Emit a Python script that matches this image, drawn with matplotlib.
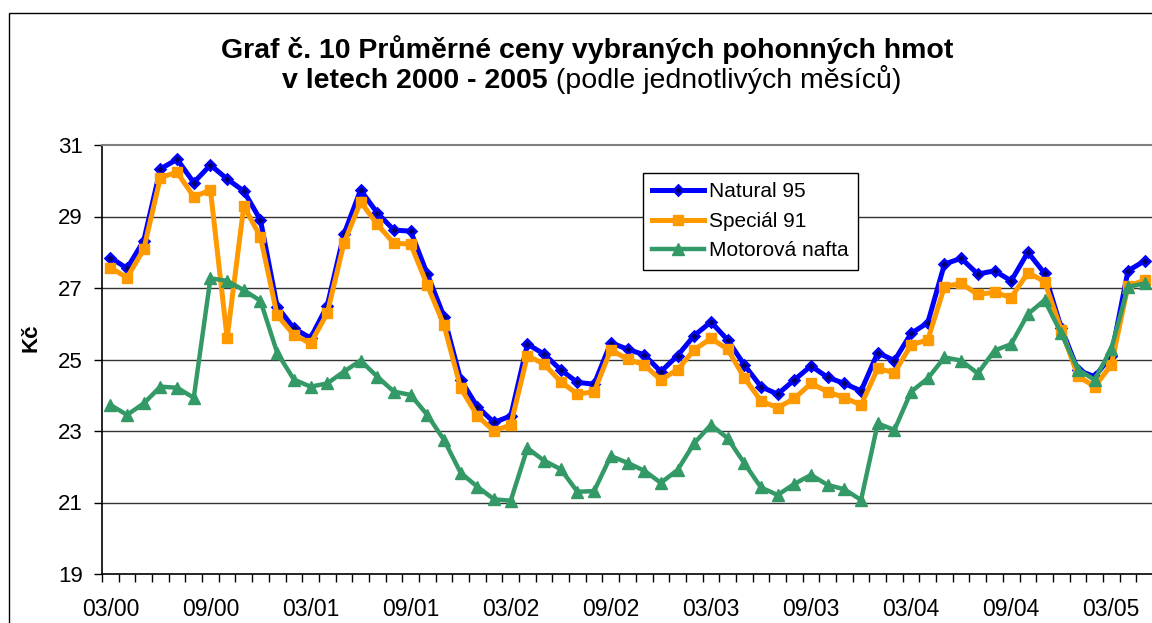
import numpy as np
import matplotlib
matplotlib.use("Agg")
import matplotlib.pyplot as plt
from matplotlib.patches import Rectangle

plt.rcParams['font.family'] = ['Liberation Sans', 'DejaVu Sans']

# monthly prices, 03/2000 - 05/2005 (Kč)
natural95 = [27.85, 27.55, 28.32, 30.33, 30.6, 29.95, 30.44, 30.05, 29.71, 28.9,
             26.48, 25.87, 25.6, 26.5, 28.5, 29.74, 29.1, 28.62, 28.59, 27.39,
             26.2, 24.43, 23.68, 23.24, 23.42, 25.43, 25.15, 24.71, 24.36, 24.31,
             25.47, 25.29, 25.13, 24.66, 25.11, 25.67, 26.05, 25.55, 24.85, 24.24,
             24.03, 24.43, 24.82, 24.5, 24.33, 24.12, 25.19, 24.97, 25.73, 26.03,
             27.67, 27.83, 27.39, 27.48, 27.2, 28.0, 27.41, 25.88, 24.7, 24.52,
             25.1, 27.48, 27.76]
special91 = [27.57, 27.29, 28.08, 30.09, 30.24, 29.55, 29.74, 25.6, 29.29, 28.43,
             26.24, 25.69, 25.45, 26.29, 28.25, 29.41, 28.78, 28.25, 28.23, 27.08,
             25.96, 24.2, 23.42, 23.0, 23.17, 25.11, 24.87, 24.38, 24.03, 24.1,
             25.27, 25.01, 24.85, 24.43, 24.72, 25.27, 25.59, 25.29, 24.49, 23.84,
             23.65, 23.91, 24.33, 24.1, 23.93, 23.73, 24.75, 24.63, 25.41, 25.55,
             27.04, 27.13, 26.82, 26.88, 26.73, 27.43, 27.18, 25.83, 24.54, 24.24,
             24.85, 27.05, 27.22]
nafta = [23.73, 23.45, 23.77, 24.24, 24.21, 23.93, 27.27, 27.2, 26.94, 26.64,
         25.19, 24.44, 24.24, 24.33, 24.66, 24.97, 24.52, 24.1, 24.01, 23.45,
         22.75, 21.83, 21.44, 21.09, 21.05, 22.52, 22.17, 21.93, 21.3, 21.32,
         22.3, 22.11, 21.89, 21.55, 21.91, 22.66, 23.17, 22.8, 22.1, 21.42,
         21.21, 21.52, 21.77, 21.49, 21.37, 21.07, 23.21, 23.03, 24.1, 24.47,
         25.06, 24.97, 24.61, 25.25, 25.43, 26.27, 26.66, 25.73, 24.72, 24.43,
         25.3, 27.03, 27.13]

# every 6th month is labelled
tick_labels = ["03/00", "09/00", "03/01", "09/01", "03/02", "09/02",
               "03/03", "09/03", "03/04", "09/04", "03/05"]
y_ticks = [19, 21, 23, 25, 27, 29, 31]

W, H = 1152, 623
fig = plt.figure(figsize=(W / 100, H / 100), dpi=100)

# outer chart frame (cut off at right and bottom like the original)
fig.patches.append(Rectangle((9 / W, -0.1), 1.2, 1 - 13 / H + 0.1,
                             transform=fig.transFigure, fill=False,
                             edgecolor='black', linewidth=1.0))

ax = fig.add_axes([102 / W, 1 - 574 / H, 1051 / W, 429 / H])
x = np.arange(len(natural95))

ax.plot(x, natural95, color='#0000FF', lw=3.6, marker='D', ms=5.5,
        mfc='#000066', mec='#0000FF', mew=1.8, label='Natural 95', zorder=3)
ax.plot(x, special91, color='#FF9900', lw=3.6, marker='s', ms=7.5,
        mfc='#FF9900', mec='#FF9900', label='Speciál 91', zorder=4)
ax.plot(x, nafta, color='#339966', lw=3.2, marker='^', ms=8,
        mfc='#339966', mec='#339966', label='Motorová nafta', zorder=5)

ax.set_xlim(-0.5, len(natural95) - 0.5)
ax.set_ylim(19, 31)
ax.set_yticks(y_ticks)
ax.set_yticklabels([str(v) for v in y_ticks])
for v in y_ticks[1:-1]:
    ax.axhline(v, color='#333333', lw=1.0, zorder=1)

ax.set_xticks(x[::6])
ax.set_xticklabels(tick_labels)
ax.set_xticks(np.arange(-0.5, len(natural95), 1), minor=True)
ax.tick_params(axis='x', which='major', length=0, pad=17, labelsize=16.5)
ax.tick_params(axis='x', which='minor', length=6, width=1, direction='out')
ax.tick_params(axis='y', length=6, width=1, direction='out', pad=8,
               labelsize=16)

ax.spines['top'].set_color('#808080')
ax.spines['top'].set_linewidth(1.5)
ax.spines['right'].set_visible(False)
ax.spines['left'].set_linewidth(1.2)
ax.spines['bottom'].set_linewidth(1.2)

fig.text(31 / W, 1 - 338 / H, 'Kč', rotation=90, fontsize=16,
         fontweight='bold', ha='center', va='center')

fig.text(587 / W, 1 - 58 / H, 'Graf č. 10 Průměrné ceny vybraných pohonných hmot',
         fontsize=20.5, fontweight='bold', ha='center', va='baseline')
fig.text(548 / W, 1 - 88 / H, 'v letech 2000 - 2005', fontsize=20.5,
         fontweight='bold', ha='right', va='baseline')
fig.text(548 / W, 1 - 88 / H, ' (podle jednotlivých měsíců)', fontsize=20.5,
         ha='left', va='baseline')

leg = ax.legend(loc='upper left', bbox_to_anchor=(643 / W, 1 - 173 / H),
                bbox_transform=fig.transFigure, borderaxespad=0,
                fontsize=15, frameon=True, fancybox=False, framealpha=1,
                edgecolor='black', handlelength=2.5, handletextpad=0.2,
                labelspacing=0.5, borderpad=0.45)
leg.get_frame().set_linewidth(1.0)

fig.savefig('out.png', dpi=100)
